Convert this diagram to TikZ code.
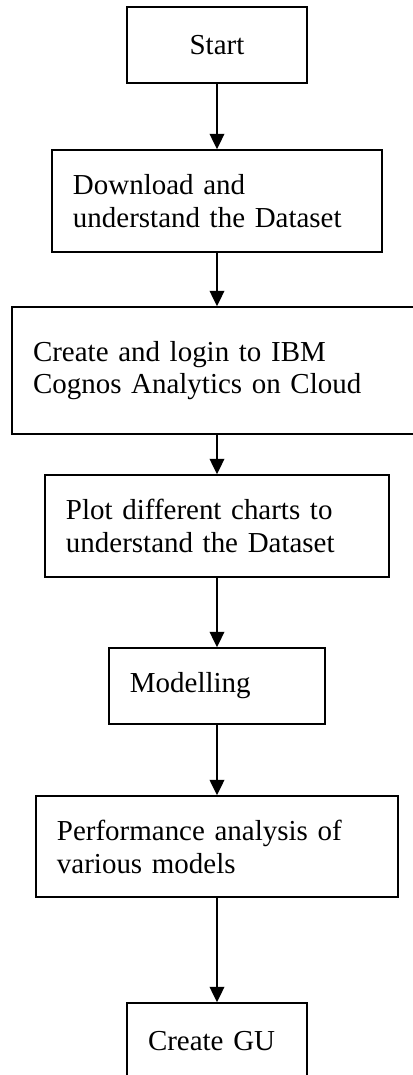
\documentclass[tikz,border=0pt]{standalone}
\usepackage{fontspec}
\setmainfont{Liberation Serif}
\usetikzlibrary{arrows.meta}

\begin{document}
\begin{tikzpicture}[
    stage/.style={draw, line width=0.6pt, align=left, inner xsep=0.306cm, inner ysep=0pt,
        font=\fontsize{12}{13.6}\selectfont},
    flow/.style={-{Triangle[length=6.4pt,width=6pt]}, line width=0.9pt}]
    \useasboundingbox (0,0) rectangle (6.0,-15.655);

    % Steps
    \node[stage, align=center, minimum width=2.621cm, minimum height=1.107cm] (start) at (3.160,-0.655) {Start};
    \node[stage, text width=4.194cm, minimum height=1.485cm] (download) at (3.160,-2.927) {Download and\\understand the Dataset};
    \node[stage, text width=5.242cm, minimum height=1.850cm] (cognos) at (3.102,-5.396) {Create and login to IBM\\Cognos Analytics on Cloud};
    \node[stage, text width=4.398cm, minimum height=1.485cm] (charts) at (3.160,-7.660) {Plot different charts to\\understand the Dataset};
    \node[stage, text width=2.534cm, minimum height=1.107cm] (modelling) at (3.160,-9.990) {Modelling};
    \node[stage, text width=4.660cm, minimum height=1.471cm] (analysis) at (3.160,-12.328) {Performance analysis of\\various models};
    \node[stage, text width=2.009cm, minimum height=1.107cm] (gui) at (3.160,-15.160) {Create GU};

    % Arrows
    \draw[flow] (start) -- (download);
    \draw[flow] (download.south) -- (download.south |- cognos.north);
    \draw[flow] (charts.north |- cognos.south) -- (charts.north);
    \draw[flow] (charts) -- (modelling);
    \draw[flow] (modelling) -- (analysis);
    \draw[flow] (analysis) -- (gui);
\end{tikzpicture}
\end{document}
